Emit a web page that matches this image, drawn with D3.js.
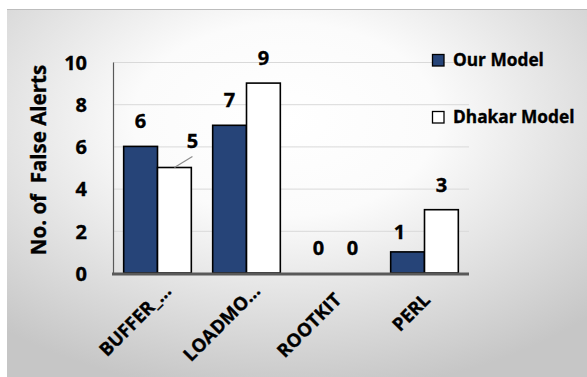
<!DOCTYPE html>
<html>
<head>
<meta charset="utf-8">
<script src="https://cdn.jsdelivr.net/npm/d3@7"></script>
<style>
html,body{margin:0;padding:0;background:#fff;}
svg{display:block;}
text{font-family:"Open Sans",Lato,sans-serif;font-weight:bold;fill:#000;stroke:#000;stroke-width:0.35px;}
</style>
</head>
<body>
<svg id="chart" width="587" height="377"></svg>
<script>
const categories = ["BUFFER_…", "LOADMO…", "ROOTKIT", "PERL"];
const seriesNames = ["Our Model", "Dhakar Model"];
const ourModel = [6, 7, 0, 1];
const dhakarModel = [5, 9, 0, 3];
const yTicks = [0, 2, 4, 6, 8, 10];
const yTitle = "No. of  False Alerts";

const W = 587, H = 377;
const svg = d3.select("#chart");
const defs = svg.append("defs");
const grad = defs.append("radialGradient").attr("id","bg")
  .attr("cx","0.48").attr("cy","0.3").attr("r","0.75").attr("fx","0.48").attr("fy","0.3");
grad.append("stop").attr("offset","0").attr("stop-color","#ffffff");
grad.append("stop").attr("offset","0.35").attr("stop-color","#fbfbfb");
grad.append("stop").attr("offset","1").attr("stop-color","#c6c6c6");

svg.append("rect").attr("x",0).attr("y",0).attr("width",W).attr("height",H).attr("fill","#fff");
svg.append("rect").attr("x",7).attr("y",9).attr("width",W-7).attr("height",H-9).attr("fill","url(#bg)");
svg.append("line").attr("x1",7).attr("x2",W).attr("y1",9.5).attr("y2",9.5).attr("stroke","#bdbdbd").attr("stroke-width",1);

const plot = {left:113, right:469, top:62, bottom:273};
const x0 = d3.scaleBand().domain(categories).range([plot.left, plot.right]).paddingInner(0.24).paddingOuter(0.12);
const x1 = d3.scaleBand().domain(seriesNames).range([0, x0.bandwidth()]);
const y = d3.scaleLinear().domain([0, 10]).range([plot.bottom, plot.top]);

// gridlines
svg.append("g").selectAll("line").data(yTicks.filter(d=>d>0)).join("line")
  .attr("x1",plot.left).attr("x2",plot.right)
  .attr("y1",d=>y(d)+0.5).attr("y2",d=>y(d)+0.5)
  .attr("stroke","#d9d9d9").attr("stroke-width",1);

// y axis
const yAxis = svg.append("g").attr("transform",`translate(${plot.left},0)`)
  .call(d3.axisLeft(y).tickValues(yTicks).tickSize(0).tickPadding(26));
yAxis.select(".domain").attr("stroke","#595959").attr("stroke-width",1.2);
yAxis.selectAll("text").attr("font-size",20).attr("dy","0.36em")
  .style("font-family","'Open Sans',Lato,sans-serif").style("font-weight","bold").attr("fill","#000");

// y title
svg.append("text").attr("transform",`translate(46,160) rotate(-90)`)
  .attr("text-anchor","middle").attr("font-size",20.5).style("white-space","pre").text(yTitle);

const colors = ["#264478", "#ffffff"];
const rows = categories.map((c,i)=>({cat:c, vals:[ourModel[i], dhakarModel[i]]}));

const groups = svg.append("g").selectAll("g").data(rows).join("g")
  .attr("transform",d=>`translate(${x0(d.cat)},0)`);
groups.selectAll("rect").data(d=>d.vals.map((v,j)=>({v, s:seriesNames[j], j})).filter(e=>e.v>0)).join("rect")
  .attr("x",e=>x1(e.s)).attr("width",x1.bandwidth())
  .attr("y",e=>y(e.v)).attr("height",e=>y(0)-y(e.v))
  .attr("fill",e=>colors[e.j]).attr("stroke","#000").attr("stroke-width",1.6);

// x axis
svg.append("line").attr("x1",plot.left-1).attr("x2",plot.right).attr("y1",plot.bottom+1).attr("y2",plot.bottom+1)
  .attr("stroke","#595959").attr("stroke-width",3);

// data labels
const labels = [];
rows.forEach((r,i)=>r.vals.forEach((v,j)=>{
  const cx = x0(r.cat)+x1(seriesNames[j])+x1.bandwidth()/2;
  labels.push({v, cx, cy:y(v), i, j});
}));
const lg = svg.append("g");
labels.forEach(l=>{
  let dx = 0, dy = -18;
  if (l.i===0 && l.j===1) { dx = 18; dy = -20;
    lg.append("line").attr("x1",l.cx).attr("y1",l.cy).attr("x2",l.cx+dx).attr("y2",l.cy-11)
      .attr("stroke","#8c8c8c").attr("stroke-width",1.2);
  }
  if (l.i===3 && l.j===0) { dx = -8; dy = -13; }
  lg.append("text").attr("x",l.cx+dx).attr("y",l.cy+dy).attr("text-anchor","middle")
    .attr("font-size",20).text(l.v);
});

// x labels
svg.append("g").selectAll("text").data(categories).join("text")
  .attr("transform",d=>{
    const long = d.endsWith("…");
    return `translate(${x0(d)+x0.bandwidth()/2+(long?15:7)},${long?292:301}) rotate(-45)`;
  })
  .attr("text-anchor","end").attr("font-size",18.5).text(d=>d);

// legend
const leg = svg.append("g");
seriesNames.forEach((s,j)=>{
  const yy = [54, 111][j];
  leg.append("rect").attr("x",432.5).attr("y",yy+0.5).attr("width",11.5).attr("height",11.5)
    .attr("fill",colors[j]).attr("stroke","#000").attr("stroke-width",1.3);
  leg.append("text").attr("x",453).attr("y",yy+12).attr("font-size",17.3).text(s);
});
</script>
</body>
</html>
